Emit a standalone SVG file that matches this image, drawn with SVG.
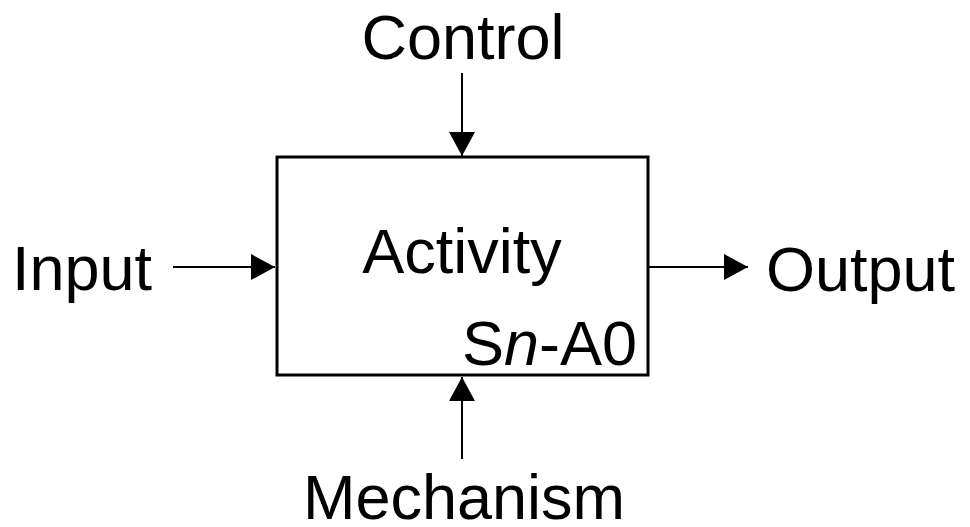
<svg xmlns="http://www.w3.org/2000/svg" width="970" height="527" viewBox="0 0 970 527">
<defs>
<style>
text{font-family:"Liberation Sans",Arial,sans-serif;font-size:63px;fill:#000}
.c{stroke:#000;stroke-width:2;fill:none}
</style>
<marker id="ah" viewBox="0 0 24 26" refX="24" refY="13" markerWidth="24" markerHeight="26" markerUnits="userSpaceOnUse" orient="auto">
<path d="M0,0 L24,13 L0,26 Z" fill="#000"/>
</marker>
</defs>
<rect width="970" height="527" fill="#fff"/>
<g id="connectors">
<line class="c" x1="462" y1="73" x2="462" y2="156" marker-end="url(#ah)"/>
<line class="c" x1="173" y1="267" x2="275" y2="267" marker-end="url(#ah)"/>
<line class="c" x1="649" y1="267" x2="748" y2="267" marker-end="url(#ah)"/>
<line class="c" x1="462" y1="459" x2="462" y2="377" marker-end="url(#ah)"/>
</g>
<g id="activity">
<rect x="277" y="157" width="371" height="218" fill="#fff" stroke="#000" stroke-width="3"/>
<text x="462" y="273" text-anchor="middle">Activity</text>
<text x="637" y="365" text-anchor="end">S<tspan font-style="italic">n</tspan>-A0</text>
</g>
<g id="control"><text x="463" y="59" text-anchor="middle">Control</text></g>
<g id="input"><text x="12" y="290">Input</text></g>
<g id="output"><text x="766" y="291">Output</text></g>
<g id="mechanism"><text x="464" y="519" text-anchor="middle">Mechanism</text></g>
</svg>
